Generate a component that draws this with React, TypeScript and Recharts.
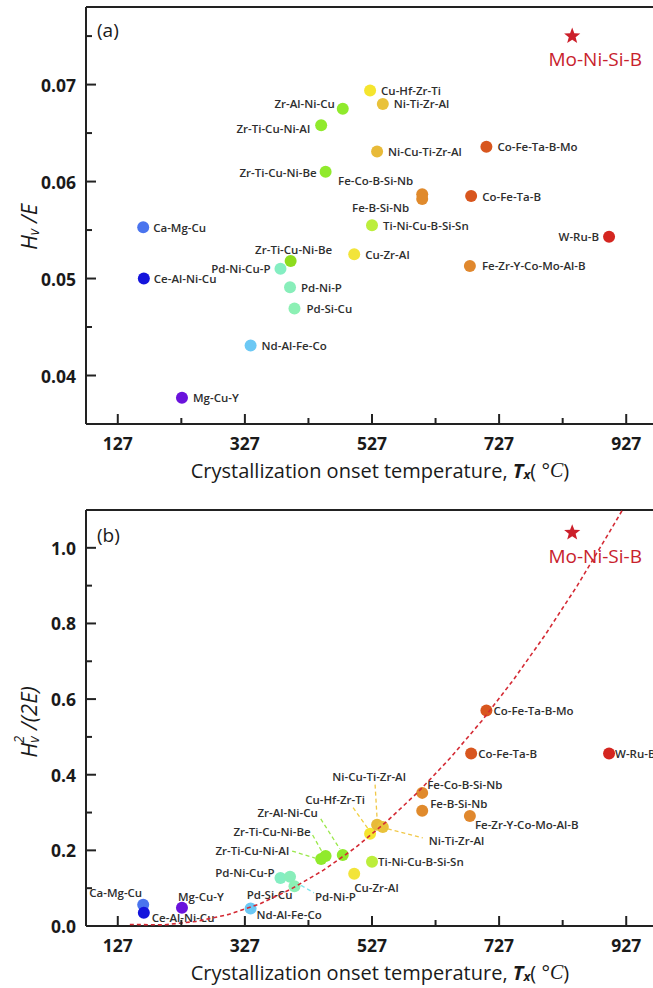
import { ScatterChart, Scatter, XAxis, YAxis, ReferenceLine } from "recharts";

// alloy systems (index 7 is the second Zr-Ti-Cu-Ni-Be point, only shown in panel a)
const alloys = [
    "Ca-Mg-Cu", "Ce-Al-Ni-Cu", "Mg-Cu-Y", "Nd-Al-Fe-Co", "Pd-Ni-Cu-P", "Pd-Ni-P", "Pd-Si-Cu",
    "Zr-Ti-Cu-Ni-Be", "Zr-Ti-Cu-Ni-Al", "Zr-Ti-Cu-Ni-Be", "Zr-Al-Ni-Cu", "Cu-Zr-Al", "Cu-Hf-Zr-Ti",
    "Ti-Ni-Cu-B-Si-Sn", "Ni-Cu-Ti-Zr-Al", "Ni-Ti-Zr-Al", "Fe-Co-B-Si-Nb", "Fe-B-Si-Nb",
    "Fe-Zr-Y-Co-Mo-Al-B", "Co-Fe-Ta-B", "Co-Fe-Ta-B-Mo", "W-Ru-B"
];

// crystallization onset temperature Tx (°C)
const tempX = [167, 168, 228, 336, 383, 398, 405, 399, 447, 454, 481, 499, 524, 527, 535, 544, 606, 606, 681, 683, 707, 900];

// Hv/E
const hvOverE = [0.0553, 0.0500, 0.0377, 0.0431, 0.0510, 0.0491, 0.0469, 0.0518, 0.0658, 0.0610, 0.0675, 0.0525,
    0.0694, 0.0555, 0.0631, 0.0680, 0.0587, 0.0582, 0.0513, 0.0585, 0.0636, 0.0543];

// Hv^2/(2E)
const hvSqOver2E = [0.056, 0.035, 0.048, 0.046, 0.127, 0.130, 0.105, null, 0.177, 0.185, 0.188, 0.138,
    0.244, 0.170, 0.268, 0.262, 0.352, 0.305, 0.291, 0.456, 0.570, 0.456];

const dotColors = [
    "#4a74ee", "#1414dc", "#6a12dc", "#6cc8f4", "#84eec2", "#88eeba", "#8cf0b4",
    "#8edc1e", "#90ea2c", "#90ea2c", "#90ea2c", "#f2e43a", "#f5e52e",
    "#bcee3c", "#e8ba38", "#e9c23a", "#e08a2c", "#e08a2c",
    "#e0882e", "#d8561e", "#d8561e", "#d42620"
];

const starName = "Mo-Ni-Si-B";
const starTemp = 842;
const starA = 0.075;
const starB = 1.04;

// dashed red trend curve in panel b
const fitTemp = [146, 200, 250, 300, 350, 400, 450, 500, 550, 600, 650, 700, 750, 800, 850, 900, 921];
const fitValue = [0.004, 0.003, 0.012, 0.03, 0.058, 0.098, 0.147, 0.206, 0.276, 0.355, 0.444, 0.543, 0.652, 0.771, 0.9, 1.04, 1.1];

const xTicks = [127, 227, 327, 427, 527, 627, 727, 827, 927];
const xMajor = [127, 327, 527, 727, 927];
const yTicksA = [0.04, 0.045, 0.05, 0.055, 0.06, 0.065, 0.07, 0.075];
const yMajorA = [0.04, 0.05, 0.06, 0.07];
const yTicksB = [0, 0.1, 0.2, 0.3, 0.4, 0.5, 0.6, 0.7, 0.8, 0.9, 1.0];
const yMajorB = [0, 0.2, 0.4, 0.6, 0.8, 1.0];

const xDomain = [77, 977];
const yDomainA = [0.035, 0.078];
const yDomainB = [0, 1.1];

// label placement (offset from dot centre), per panel
const labelsA: any[] = [
    { dx: 10, dy: 0, a: "start" }, { dx: 10, dy: 0, a: "start" }, { dx: 11, dy: 0, a: "start" },
    { dx: 11, dy: 0, a: "start" }, { dx: -10, dy: 0, a: "end" }, { dx: 11, dy: 0, a: "start" },
    { dx: 12, dy: 0, a: "start" }, { dx: 3, dy: -12, a: "middle" }, { dx: -11, dy: 3, a: "end" },
    { dx: -9, dy: 1, a: "end" }, { dx: -8, dy: -5, a: "end" }, { dx: 11, dy: 0, a: "start" },
    { dx: 11, dy: 0, a: "start" }, { dx: 11, dy: 0, a: "start" }, { dx: 11, dy: 0, a: "start" },
    { dx: 11, dy: 0, a: "start" }, { dx: -9, dy: -14, a: "end" }, { dx: -13, dy: 8, a: "end" },
    { dx: 12, dy: 0, a: "start" }, { dx: 11, dy: 0, a: "start" }, { dx: 11, dy: 0, a: "start" },
    { dx: -10, dy: 0, a: "end" }
];

const labelsB: any[] = [
    { dx: -1, dy: -12, a: "end" }, { dx: 8, dy: 5, a: "start" }, { dx: -4, dy: -11, a: "start" },
    { dx: 6, dy: 6, a: "start" }, { dx: -6, dy: -5, a: "end" },
    { dx: 25, dy: 20, a: "start", lead: [5, 5, 24, 16], lc: "#7fe6ee" },
    { dx: -2, dy: 8, a: "end" }, null,
    { dx: -32, dy: -9, a: "end", lead: [-29, -8, -6, -1], lc: "#9ae84a" },
    { dx: -15, dy: -25, a: "end", lead: [-13, -21, -4, -5], lc: "#9ae84a" },
    { dx: -25, dy: -42, a: "end", lead: [-22, -36, -3, -6], lc: "#9ae84a" },
    { dx: 0, dy: 14, a: "start" },
    { dx: -35, dy: -34, a: "middle", lead: [-17, -26, -2, -5], lc: "#f0d040" },
    { dx: 6, dy: 0, a: "start" },
    { dx: -8, dy: -48, a: "middle", lead: [-2, -40, 0, -6], lc: "#f0c848" },
    { dx: 46, dy: 14, a: "start", lead: [5, 2, 40, 11], lc: "#f0c848" },
    { dx: 5, dy: -8, a: "start" }, { dx: 8, dy: -7, a: "start" }, { dx: 5, dy: 9, a: "start" },
    { dx: 7, dy: 0, a: "start" }, { dx: 7, dy: 0, a: "start" }, { dx: 6, dy: 0, a: "start" }
];

const dataA = alloys.map((name, i) => ({ i, name, x: tempX[i], y: hvOverE[i] }));
const dataB = alloys
    .map((name, i) => ({ i, name, x: tempX[i], y: hvSqOver2E[i] }))
    .filter((d) => d.y !== null);
const starDataA = [{ name: starName, x: starTemp, y: starA }];
const starDataB = [{ name: starName, x: starTemp, y: starB }];
const fitData = fitTemp.map((t, i) => ({ x: t, y: fitValue[i] }));

const AXIS = "#222";
const TICK_FONT = "'Open Sans', sans-serif";

function makeXTick() {
    return (props: any) => {
        const { x, y, payload } = props;
        const major = xMajor.includes(payload.value);
        return (
            <g>
                <line x1={x} x2={x} y1={y} y2={y - (major ? 10 : 6)} stroke={AXIS} strokeWidth={2} />
                {major && (
                    <text x={x} y={y + 19} textAnchor="middle" dominantBaseline="central"
                        fontFamily={TICK_FONT} fontWeight={700} fontSize={17.5} fill="#1a1a1a">
                        {payload.value}
                    </text>
                )}
            </g>
        );
    };
}

function makeYTick(majors: number[], digits: number) {
    return (props: any) => {
        const { x, y, payload } = props;
        const major = majors.includes(payload.value);
        return (
            <g>
                <line x1={x} x2={x + (major ? 10 : 6)} y1={y} y2={y} stroke={AXIS} strokeWidth={2} />
                {major && (
                    <text x={x - 10} y={y} textAnchor="end" dominantBaseline="central"
                        fontFamily={TICK_FONT} fontWeight={700} fontSize={17.5} fill="#1a1a1a">
                        {payload.value.toFixed(digits)}
                    </text>
                )}
            </g>
        );
    };
}

function makeDot(labels: any[], r: number) {
    return (p: any) => {
        const d = p.payload;
        const lab = labels[d.i];
        return (
            <g>
                <circle cx={p.cx} cy={p.cy} r={r} fill={dotColors[d.i]} />
                {lab && (
                    <text x={p.cx + lab.dx} y={p.cy + lab.dy} textAnchor={lab.a} dominantBaseline="central"
                        fontFamily={TICK_FONT} fontWeight={600} fontSize={11.5} fill="#2e2e2e">
                        {d.name}
                    </text>
                )}
            </g>
        );
    };
}

function leaderShape(p: any) {
    const lab = labelsB[p.payload.i];
    if (!lab || !lab.lead) return <g />;
    const [x1, y1, x2, y2] = lab.lead;
    return (
        <line x1={p.cx + x1} y1={p.cy + y1} x2={p.cx + x2} y2={p.cy + y2}
            stroke={lab.lc} strokeWidth={1.3} strokeDasharray="4 3" />
    );
}

function starShape(p: any) {
    const pts: string[] = [];
    for (let k = 0; k < 10; k++) {
        const rad = k % 2 === 0 ? 8.5 : 3.6;
        const ang = -Math.PI / 2 + (k * Math.PI) / 5;
        pts.push(`${p.cx + rad * Math.cos(ang)},${p.cy + rad * Math.sin(ang)}`);
    }
    return (
        <g>
            <polygon points={pts.join(" ")} fill="#cc1f2a" />
            <text x={p.cx + 23} y={p.cy + 23} textAnchor="middle" dominantBaseline="central"
                fontFamily={TICK_FONT} fontSize={19} fill="#c8222c">
                {p.payload.name}
            </text>
        </g>
    );
}

function xTitle(y: number) {
    return () => (
        <text x={380} y={y} textAnchor="middle" dominantBaseline="central"
            fontFamily={TICK_FONT} fontSize={20} fill="#1a1a1a">
            Crystallization onset temperature,{"  "}
            <tspan fontStyle="italic" fontWeight={700}>T</tspan>
            <tspan fontStyle="italic" fontWeight={700} fontSize={13} dy={4}>x</tspan>
            <tspan dy={-4}>( °</tspan>
            <tspan fontFamily="'Liberation Serif', serif" fontStyle="italic">C</tspan>
            <tspan>)</tspan>
        </text>
    );
}

function yTitleA() {
    return (
        <text x={28} y={227} transform="rotate(-90 28 227)" textAnchor="middle" dominantBaseline="central"
            fontFamily={TICK_FONT} fontStyle="italic" fontSize={22} fill="#1a1a1a">
            H<tspan fontSize={14} dy={5}>v</tspan><tspan dy={-5}> /E</tspan>
        </text>
    );
}

// panel b chart starts 500px down the page, so its own coordinates are used here
function yTitleB() {
    return (
        <text x={28} y={222} transform="rotate(-90 28 222)" textAnchor="middle" dominantBaseline="central"
            fontFamily={TICK_FONT} fontStyle="italic" fontSize={22} fill="#1a1a1a">
            H<tspan fontSize={14} dy={5}>v</tspan>
            <tspan fontSize={14} dx={-7} dy={-15}>2</tspan>
            <tspan dy={10}> /(2E)</tspan>
        </text>
    );
}

function panelTag(text: string, y: number) {
    return () => (
        <text x={97} y={y} dominantBaseline="central" fontFamily={TICK_FONT} fontSize={19} fill="#1a1a1a">
            {text}
        </text>
    );
}

export default function App() {
    return (
        <div style={{ position: "absolute", left: 0, top: 0, width: 653, height: 988, overflow: "hidden", background: "#fff" }}>
            <div style={{ position: "absolute", left: 0, top: 0 }}>
                <ScatterChart width={680} height={500} margin={{ top: 7, right: 22, bottom: 16, left: 0 }}>
                    <XAxis type="number" dataKey="x" domain={xDomain} ticks={xTicks} interval={0}
                        allowDataOverflow height={60} tickSize={0} tickMargin={0}
                        axisLine={{ stroke: AXIS, strokeWidth: 2 }} tickLine={false} tick={makeXTick()}
                        label={{ content: xTitle(470) }} />
                    <YAxis type="number" dataKey="y" domain={yDomainA} ticks={yTicksA} interval={0}
                        allowDataOverflow width={86} tickSize={0} tickMargin={0}
                        axisLine={{ stroke: AXIS, strokeWidth: 2 }} tickLine={false}
                        tick={makeYTick(yMajorA, 2)} label={{ content: yTitleA }} />
                    <ReferenceLine y={yDomainA[1]} stroke={AXIS} strokeWidth={2}
                        label={{ content: panelTag("(a)", 30) }} />
                    <Scatter data={dataA} shape={makeDot(labelsA, 6)} isAnimationActive={false} />
                    <Scatter data={starDataA} shape={starShape} isAnimationActive={false} />
                </ScatterChart>
            </div>
            <div style={{ position: "absolute", left: 0, top: 500 }}>
                <ScatterChart width={680} height={488} margin={{ top: 10, right: 22, bottom: 7, left: 0 }}>
                    <XAxis type="number" dataKey="x" domain={xDomain} ticks={xTicks} interval={0}
                        allowDataOverflow height={55} tickSize={0} tickMargin={0}
                        axisLine={{ stroke: AXIS, strokeWidth: 2 }} tickLine={false} tick={makeXTick()}
                        label={{ content: xTitle(472) }} />
                    <YAxis type="number" dataKey="y" domain={yDomainB} ticks={yTicksB} interval={0}
                        allowDataOverflow width={86} tickSize={0} tickMargin={0}
                        axisLine={{ stroke: AXIS, strokeWidth: 2 }} tickLine={false}
                        tick={makeYTick(yMajorB, 1)} label={{ content: yTitleB }} />
                    <ReferenceLine y={yDomainB[1]} stroke={AXIS} strokeWidth={2}
                        label={{ content: panelTag("(b)", 35) }} />
                    <Scatter data={dataB} shape={leaderShape} isAnimationActive={false} />
                    <Scatter data={dataB} shape={makeDot(labelsB, 6)} isAnimationActive={false} />
                    <Scatter data={fitData} shape={() => <g />} line={{ stroke: "#d42a34", strokeWidth: 1.6, strokeDasharray: "4 3" }}
                        lineType="joint" isAnimationActive={false} />
                    <Scatter data={starDataB} shape={starShape} isAnimationActive={false} />
                </ScatterChart>
            </div>
        </div>
    );
}
